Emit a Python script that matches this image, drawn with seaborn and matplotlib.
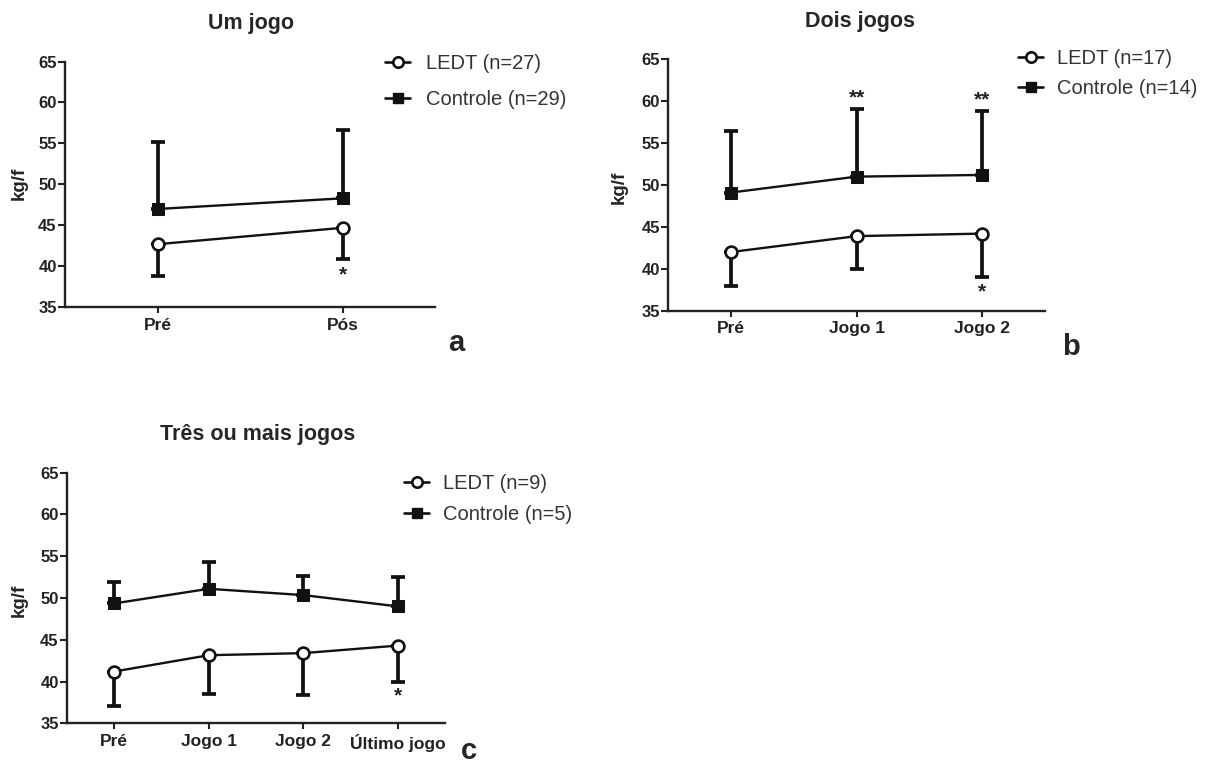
import numpy as np
import pandas as pd
import matplotlib
matplotlib.use("Agg")
import matplotlib.pyplot as plt
from matplotlib.lines import Line2D
import seaborn as sns

# ---------------- data ----------------
cats_a = ["Pré", "Pós"]
ledt_a = [42.7, 44.7]
ledt_a_err = [3.9, 3.8]          # downward SD
ctrl_a = [47.0, 48.3]
ctrl_a_err = [8.2, 8.3]          # upward SD

cats_b = ["Pré", "Jogo 1", "Jogo 2"]
ledt_b = [42.0, 43.9, 44.2]
ledt_b_err = [4.0, 3.9, 5.2]
ctrl_b = [49.1, 51.0, 51.2]
ctrl_b_err = [7.4, 8.1, 7.6]

cats_c = ["Pré", "Jogo 1", "Jogo 2", "Último jogo"]
ledt_c = [41.2, 43.15, 43.4, 44.3]
ledt_c_err = [4.1, 4.65, 5.0, 4.3]
ctrl_c = [49.35, 51.1, 50.35, 49.0]
ctrl_c_err = [2.55, 3.2, 2.25, 3.5]

titles = ["Um jogo", "Dois jogos", "Três ou mais jogos"]
legend_a = ["LEDT (n=27)", "Controle (n=29)"]
legend_b = ["LEDT (n=17)", "Controle (n=14)"]
legend_c = ["LEDT (n=9)", "Controle (n=5)"]
panel_letters = ["a", "b", "c"]
y_label = "kg/f"
y_ticks = [35, 40, 45, 50, 55, 60, 65]

# significance marks: (panel, category index, y value, text)
stars = [
    (0, 1, 38.9, "*"),
    (1, 1, 60.4, "**"),
    (1, 2, 60.1, "**"),
    (1, 2, 37.3, "*"),
    (2, 3, 38.3, "*"),
]

# ---------------- style ----------------
sns.set_style("ticks")
plt.rcParams["font.family"] = ["Liberation Sans", "DejaVu Sans"]

W, H = 1209, 766
fig = plt.figure(figsize=(W / 100, H / 100), dpi=100)

def px_axes(left, right, top, bottom):
    return fig.add_axes([left / W, 1 - bottom / H, (right - left) / W, (bottom - top) / H])

ax_a = px_axes(65, 435, 61.5, 307.3)
ax_b = px_axes(668.3, 1044.8, 59.3, 310.7)
ax_c = px_axes(67, 444.8, 472.7, 723.3)
axes = [ax_a, ax_b, ax_c]

panels = [
    (cats_a, ledt_a, ledt_a_err, ctrl_a, ctrl_a_err),
    (cats_b, ledt_b, ledt_b_err, ctrl_b, ctrl_b_err),
    (cats_c, ledt_c, ledt_c_err, ctrl_c, ctrl_c_err),
]

K = "#111111"
for ax, (cats, le, lerr, ct, cerr) in zip(axes, panels):
    x = np.arange(len(cats))
    # one-sided error bars
    ax.errorbar(x, le, yerr=[lerr, np.zeros(len(x))], fmt="none", ecolor=K,
                elinewidth=2.7, capsize=4.8, capthick=2.7, zorder=2)
    ax.errorbar(x, ct, yerr=[np.zeros(len(x)), cerr], fmt="none", ecolor=K,
                elinewidth=2.7, capsize=4.8, capthick=2.7, zorder=2)
    df_l = pd.DataFrame({"x": x, "y": le})
    df_c = pd.DataFrame({"x": x, "y": ct})
    sns.lineplot(data=df_l, x="x", y="y", ax=ax, color=K, linewidth=1.7,
                 marker="o", markersize=8.5, markerfacecolor="white",
                 markeredgecolor=K, markeredgewidth=1.9, zorder=4)
    sns.lineplot(data=df_c, x="x", y="y", ax=ax, color=K, linewidth=1.7,
                 marker="s", markersize=8.5, markerfacecolor=K,
                 markeredgecolor=K, zorder=4)
    ax.set_xlim(-0.5, len(cats) - 0.5)
    ax.set_ylim(35, 65)
    ax.set_xticks(x)
    ax.set_xticklabels(cats, fontsize=12.5, fontweight="bold", color="#222222")
    ax.set_yticks(y_ticks)
    ax.set_yticklabels([str(t) for t in y_ticks], fontsize=12, fontweight="bold", color="#222222")
    ax.set_xlabel("")
    ax.set_ylabel("")
    sns.despine(ax=ax)
    for s in ["left", "bottom"]:
        ax.spines[s].set_linewidth(1.7)
        ax.spines[s].set_color("#222222")
    ax.tick_params(axis="y", length=5, width=1.5, pad=1, color="#222222")
    ax.tick_params(axis="x", length=4.5, width=1.5, pad=3, color="#222222")
    ax.patch.set_alpha(0)

for p, i, yv, txt in stars:
    axes[p].text(i, yv, txt, ha="center", va="center", fontsize=15,
                 fontweight="bold", color="#222222")

# titles
fig.text(251 / W, 1 - 24 / H, titles[0], ha="center", va="center", fontsize=15.5, fontweight="bold")
fig.text(860 / W, 1 - 22 / H, titles[1], ha="center", va="center", fontsize=15.5, fontweight="bold")
fig.text(257.6 / W, 1 - 434 / H, titles[2], ha="center", va="center", fontsize=15.5, fontweight="bold")

# y labels
fig.text(19 / W, 1 - 183 / H, y_label, rotation=90, ha="center", va="center", fontsize=13.5, fontweight="bold")
fig.text(619.5 / W, 1 - 187 / H, y_label, rotation=90, ha="center", va="center", fontsize=13.5, fontweight="bold")
fig.text(19 / W, 1 - 600 / H, y_label, rotation=90, ha="center", va="center", fontsize=13.5, fontweight="bold")

# panel letters
fig.text(456.7 / W, 1 - 343 / H, panel_letters[0], ha="center", va="center", fontsize=21, fontweight="bold")
fig.text(1071 / W, 1 - 347 / H, panel_letters[1], ha="center", va="center", fontsize=21, fontweight="bold")
fig.text(468.7 / W, 1 - 751 / H, panel_letters[2], ha="center", va="center", fontsize=21, fontweight="bold")

# legends
def make_handles():
    h1 = Line2D([], [], color=K, linewidth=1.9, marker="o", markersize=7.5,
                markerfacecolor="white", markeredgecolor=K, markeredgewidth=1.9)
    h2 = Line2D([], [], color=K, linewidth=1.9, marker="s", markersize=7.5,
                markerfacecolor=K, markeredgecolor=K)
    return [h1, h2]

leg_specs = [
    (ax_a, legend_a, 385, 54, 0.85, 0.8),
    (ax_b, legend_b, 1018, 49, 0.55, 0.7),
    (ax_c, legend_c, 404, 474, 0.62, 0.7),
]
for ax, labels, lx, ly, ls, tp in leg_specs:
    leg = ax.legend(make_handles(), labels, loc="upper left",
                    bbox_to_anchor=(lx / W, 1 - ly / H), bbox_transform=fig.transFigure,
                    frameon=False, fontsize=14.5, handlelength=1.25, handletextpad=tp,
                    labelspacing=ls, borderpad=0, borderaxespad=0)
    for t in leg.get_texts():
        t.set_color("#333333")

fig.savefig("out.png", dpi=100)
